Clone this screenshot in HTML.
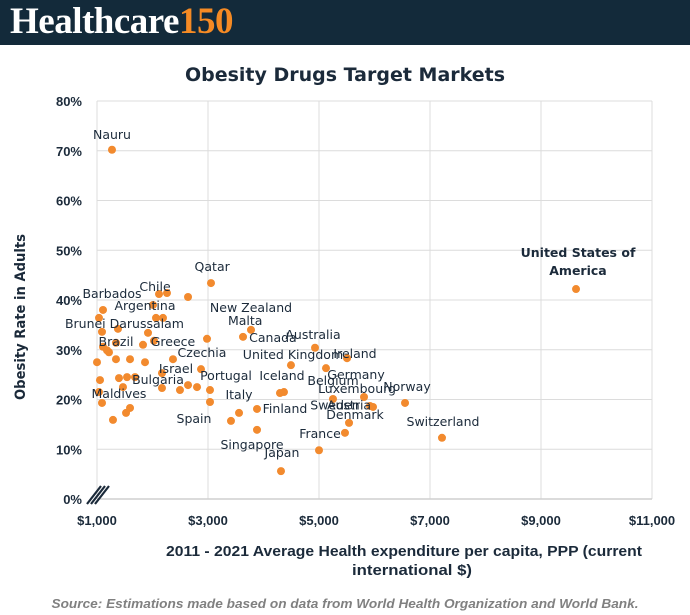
<!DOCTYPE html>
<html><head><meta charset="utf-8">
<style>
body{margin:0;width:690px;height:615px;background:#fff;overflow:hidden;font-family:"Liberation Sans",sans-serif}
#hdr{position:absolute;left:0;top:0;width:690px;height:45px;background:#132a3a}
#logo{position:absolute;left:10px;top:2px;font-family:"Liberation Serif",serif;font-weight:bold;font-size:37px;color:#fff;letter-spacing:-0.5px;line-height:40px}
#logo span{color:#f58a24}
</style></head><body>
<div id="hdr"><div id="logo">Healthcare<span>150</span></div></div>
<svg id="chart" width="690" height="615" style="position:absolute;left:0;top:0"></svg>
<script>
const spend=[1270,9631,3054,7216,4315,5000,5468,5541,5811,5973,5919,5252,6550,2117,2261,2640,1108,2009,1036,2063,2189,1378,1090,1919,2027,1342,1829,2982,3631,3775,1108,1180,1216,1342,1595,1000,1865,2369,2171,2874,4495,4928,5126,5505,1054,1396,1541,1685,1036,1468,1090,2171,2495,2640,2802,3036,3036,4297,4369,1595,1523,1288,3414,3559,3883,3883];
const obesity=[70.2,42.2,43.4,12.3,5.6,9.8,13.3,15.3,20.5,18.5,18.7,20.1,19.3,41.2,41.4,40.6,38.0,39.0,36.4,36.4,36.4,34.2,33.6,33.4,31.8,31.4,31.0,32.2,32.6,34.0,30.6,29.9,29.5,28.1,28.1,27.5,27.5,28.1,25.3,26.1,26.9,30.4,26.3,28.3,23.9,24.3,24.5,24.5,21.5,22.5,19.3,22.3,21.9,22.9,22.5,21.9,19.5,21.3,21.5,18.3,17.3,15.9,15.7,17.3,18.1,13.9];
const labelNames=["Nauru","Qatar","Barbados","Chile","Argentina","New Zealand","Brunei Darussalam","Malta","Brazil","Greece","Canada","Australia","Czechia","United Kingdom","Ireland","Israel","Portugal","Iceland","Bulgaria","Germany","Belgium","Norway","Luxembourg","Italy","Maldives","Sweden","Austria","Finland","Denmark","Spain","Switzerland","France","Singapore","Japan"];
const labelX=[1270,3075,1270,2045,1865,3775,1495,3670,1342,2369,4170,4892,2892,4531,5649,2423,3324,4333,2099,5667,5253,6586,5685,3559,1396,5288,5541,4387,5649,2748,7234,5018,3793,4333];
const labelY=[73.4,46.8,41.4,42.8,39.0,38.6,35.4,36.0,31.8,31.8,32.6,33.2,29.5,29.1,29.3,26.3,24.9,24.9,24.1,25.1,23.9,22.7,22.3,21.1,21.3,19.0,19.0,18.3,17.1,16.3,15.7,13.3,11.1,9.4];
const xTicks=[1000,3000,5000,7000,9000,11000];
const xTickLabels=["$1,000","$3,000","$5,000","$7,000","$9,000","$11,000"];
const yTicks=[0,10,20,30,40,50,60,70,80];
const yTickLabels=["0%","10%","20%","30%","40%","50%","60%","70%","80%"];

const NS="http://www.w3.org/2000/svg";
const svg=document.getElementById('chart');
const L=97,R=652,T=101,B=499;
const xs=v=>L+(v-1000)/10000*(R-L);
const ys=v=>B-v/80*(B-T);
function mk(tag,at,txt){const e=document.createElementNS(NS,tag);for(const k in at)e.setAttribute(k,at[k]);if(txt!==undefined)e.textContent=txt;svg.appendChild(e);return e;}
const tickFont='"Liberation Sans Narrow","Liberation Sans",sans-serif';

let t=mk('text',{x:345,y:81,'text-anchor':'middle','font-size':19,'font-weight':'bold',fill:'#1b2a3a','font-family':'"DejaVu Sans",sans-serif'},'Obesity Drugs Target Markets');



yTicks.forEach((v,i)=>{
  if(v>0){let g=mk('line',{x1:L,x2:R,y1:ys(v),y2:ys(v),stroke:'#dcdcdc','stroke-width':1});
  
  }
  let tl=mk('text',{x:82,y:ys(v)+5,'text-anchor':'end','font-size':13,'font-weight':'bold',fill:'#1b2a3a','font-family':tickFont},yTickLabels[i]);
  
  
});
xTicks.forEach((v,i)=>{
  let g=mk('line',{x1:xs(v),x2:xs(v),y1:T,y2:B,stroke:'#dcdcdc','stroke-width':1});
  
  
  let tl=mk('text',{x:xs(v),y:525,'text-anchor':'middle','font-size':13,'font-weight':'bold',fill:'#1b2a3a','font-family':tickFont},xTickLabels[i]);
  
  
});
let ax=mk('line',{x1:L,x2:R,y1:B,y2:B,stroke:'#cfcfcf','stroke-width':1.5});


let br=mk('path',{d:'M87,504 L101,486 M95,504 L109,486 M91,504 L105,486',stroke:'#1b2a3a','stroke-width':2.2,fill:'none'});



spend.forEach((v,i)=>{
  let c=mk('circle',{cx:xs(v),cy:ys(obesity[i]),r:4,fill:'#f28a2e'});
  
  
});
labelNames.forEach((n,i)=>{
  let tl=mk('text',{x:xs(labelX[i]),y:ys(labelY[i])+5,'text-anchor':'middle','font-size':12.5,fill:'#1b2a3a','font-family':'"DejaVu Sans",sans-serif'},n);
  
  
});
let us1=mk('text',{x:578,y:257,'text-anchor':'middle','font-size':12.5,'font-weight':'bold',fill:'#1b2a3a','font-family':'"DejaVu Sans",sans-serif'},'United States of');


let us2=mk('text',{x:578,y:275,'text-anchor':'middle','font-size':12.5,'font-weight':'bold',fill:'#1b2a3a','font-family':'"DejaVu Sans",sans-serif'},'America');



let yt=mk('text',{x:0,y:0,transform:'translate(25,317) rotate(-90)','text-anchor':'middle','font-size':14,'font-weight':'bold',fill:'#1b2a3a','font-family':'"DejaVu Sans",sans-serif','textLength':166,'lengthAdjust':'spacingAndGlyphs'},'Obesity Rate in Adults');


let xt1=mk('text',{x:404,y:556,'text-anchor':'middle','font-size':15,'font-weight':'bold',fill:'#1b2a3a','font-family':tickFont,'textLength':476,'lengthAdjust':'spacingAndGlyphs'},'2011 - 2021 Average Health expenditure per capita, PPP  (current');


let xt2=mk('text',{x:412,y:575,'text-anchor':'middle','font-size':15,'font-weight':'bold',fill:'#1b2a3a','font-family':tickFont,'textLength':120,'lengthAdjust':'spacingAndGlyphs'},'international $)');


let src=mk('text',{x:345,y:608,'text-anchor':'middle','font-size':13,'font-weight':'bold','font-style':'italic',fill:'#808080','font-family':tickFont,'textLength':587,'lengthAdjust':'spacingAndGlyphs'},'Source: Estimations made based on data from World Health Organization and World Bank.');


</script>
</body></html>
